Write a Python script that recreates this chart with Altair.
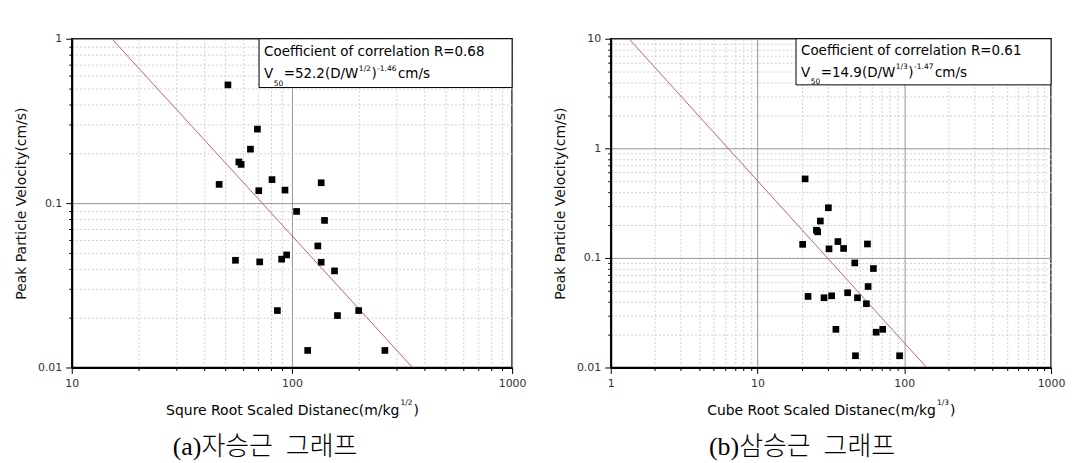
import altair as alt
import pandas as pd

FONT = "DejaVu Sans"
SERIF = "Liberation Serif, Noto Sans CJK KR"

# ---------------- data ----------------
a_x = [51.2, 69.7, 64.8, 57.4, 58.8, 46.7, 70.7, 81.2, 93.0, 135.8, 105.0, 140.6,
       55.4, 71.4, 89.8, 94.6, 131.1, 135.8, 156.1, 85.9, 201.0, 161.0, 117.9, 264.4]
a_y = [0.524, 0.282, 0.213, 0.178, 0.172, 0.130, 0.119, 0.139, 0.120, 0.133, 0.089, 0.0785,
       0.0449, 0.0439, 0.0456, 0.0484, 0.0549, 0.0437, 0.0387, 0.0222, 0.0222, 0.0207, 0.0127, 0.0127]

b_x = [21.1, 30.4, 26.8, 25.2, 25.7, 35.3, 20.3, 30.7, 38.6, 56.1, 46.0, 61.6,
       56.7, 22.1, 28.4, 32.0, 41.1, 48.0, 55.2, 34.2, 64.3, 71.3, 46.5, 92.9]
b_y = [0.526, 0.287, 0.217, 0.179, 0.173, 0.141, 0.133, 0.121, 0.122, 0.134, 0.090, 0.080,
       0.0548, 0.0445, 0.0433, 0.0451, 0.0481, 0.0433, 0.0382, 0.0223, 0.0210, 0.0223, 0.0128, 0.0128]

# fitted power-law lines (end points where they leave the frame)
a_fit_x = [15.2, 353.0]
a_fit_y = [1.0, 0.01]
b_fit_x = [1.33, 142.0]
b_fit_y = [10.0, 0.01]

# axis tick positions
a_x_ticks = [10, 20, 30, 40, 50, 60, 70, 80, 90, 100, 200, 300, 400, 500, 600, 700, 800, 900, 1000]
a_y_ticks = [0.01, 0.02, 0.03, 0.04, 0.05, 0.06, 0.07, 0.08, 0.09,
             0.1, 0.2, 0.3, 0.4, 0.5, 0.6, 0.7, 0.8, 0.9, 1]
b_x_ticks = [1, 2, 3, 4, 5, 6, 7, 8, 9, 10, 20, 30, 40, 50, 60, 70, 80, 90,
             100, 200, 300, 400, 500, 600, 700, 800, 900, 1000]
b_y_ticks = [0.01, 0.02, 0.03, 0.04, 0.05, 0.06, 0.07, 0.08, 0.09,
             0.1, 0.2, 0.3, 0.4, 0.5, 0.6, 0.7, 0.8, 0.9,
             1, 2, 3, 4, 5, 6, 7, 8, 9, 10]

y_title = "Peak Particle Velocity(cm/s)"

a_r_text = "Coefficient of correlation R=0.68"
a_eq = ["V", "50", "=52.2(D/W", "1/2", ")", "-1.46", "cm/s"]
a_xtitle = ["Squre Root Scaled Distanec(m/kg", "1/2", ")"]
a_caption = "(a)자승근\u00a0\u00a0그래프"

b_r_text = "Coefficient of correlation R=0.61"
b_eq = ["V", "50", "=14.9(D/W", "1/3", ")", "-1.47", "cm/s"]
b_xtitle = ["Cube Root Scaled Distanec(m/kg", "1/3", ")"]
b_caption = "(b)삼승근\u00a0\u00a0그래프"

# ---------------- helpers ----------------
W_PLOT, H_PLOT = 442, 330

# DejaVu Sans advance widths (em)
CW = {" ": 0.318, "(": 0.390, ")": 0.390, "-": 0.361, ".": 0.318, "/": 0.337, "=": 0.838,
      "C": 0.698, "D": 0.770, "R": 0.695, "S": 0.635, "V": 0.684, "W": 0.989, "P": 0.603,
      "a": 0.613, "b": 0.635, "c": 0.550, "d": 0.635, "e": 0.615, "f": 0.352, "g": 0.635,
      "i": 0.278, "k": 0.579, "l": 0.278, "m": 0.974, "n": 0.634, "o": 0.612, "q": 0.635,
      "r": 0.411, "s": 0.521, "t": 0.392, "u": 0.634, "y": 0.592}
for d in "0123456789":
    CW[d] = 0.636


def tw(s, size):
    return sum(CW.get(c, 0.6) for c in s) * size


ONE = pd.DataFrame({"k": [0]})
DEC = "abs(log(datum.value)/LN10 - round(log(datum.value)/LN10)) < 0.000001"


def cond(a, b):
    return {"condition": {"test": DEC, "value": a}, "value": b}


def make_axis(values, **kw):
    return alt.Axis(values=values, labelExpr=f"({DEC}) ? '' + datum.value : ''",
                    grid=True, gridColor=cond("#959595", "#d0d0d0"),
                    gridDash=cond([], [2, 2]), gridWidth=1,
                    tickSize=cond(6, 3), tickColor="black", tickWidth=1,
                    domainColor="black", domainWidth=2,
                    labelFont=FONT, labelFontSize=11, labelColor="#333",
                    labelOverlap=False, labelFlush=False, **kw)


def text_layer(txt, x, y, size, align="left", font=FONT, weight="normal", color="black"):
    return alt.Chart(ONE).mark_text(align=align, baseline="alphabetic", font=font,
                                    fontSize=size, fontWeight=weight, color=color).encode(
        x=alt.value(x), y=alt.value(y), text=alt.value(txt))


def panel(px, py, fx, fy, xdom, ydom, xt, yt, rtext, eq, xtitle, caption,
          box_left, box_bottom, l1_y, l2_y, cap_x):
    df = pd.DataFrame({"x": px, "y": py})
    fit = pd.DataFrame({"x": fx, "y": fy})
    xs = alt.Scale(type="log", domain=xdom, nice=False)
    ys = alt.Scale(type="log", domain=ydom, nice=False)
    xax = make_axis(xt, title=None, labelPadding=4)
    yax = make_axis(yt, title=y_title, titleFont=FONT, titleFontSize=14,
                    titleFontWeight="normal", titleColor="#111", titlePadding=9,
                    labelPadding=4)
    enc = dict(x=alt.X("x:Q", scale=xs, axis=xax), y=alt.Y("y:Q", scale=ys, axis=yax))
    line = alt.Chart(fit).mark_line(color="#b8686a", strokeWidth=1, clip=True).encode(**enc)
    pts = alt.Chart(df).mark_square(size=45, color="black", opacity=1).encode(**enc)
    box = alt.Chart(ONE).mark_rect(fill="white", stroke="black", strokeWidth=1).encode(
        x=alt.value(box_left), x2=alt.value(W_PLOT), y=alt.value(0), y2=alt.value(box_bottom))

    layers = [line, pts, box]
    x0 = box_left + 5
    layers.append(text_layer(rtext, x0, l1_y, 13.5))
    # equation with sub/superscripts
    big, small = 13.5, 7.5
    xcur = x0
    layers.append(text_layer(eq[0], xcur, l2_y, big))
    xcur += tw(eq[0], big) + 0.5
    layers.append(text_layer(eq[1], xcur, l2_y + 7.5, small))
    xcur += tw(eq[1], small) + 0.5
    layers.append(text_layer(eq[2], xcur, l2_y, big))
    xcur += tw(eq[2], big) + 0.5
    layers.append(text_layer(eq[3], xcur, l2_y - 7.5, small))
    xcur += tw(eq[3], small) + 0.5
    layers.append(text_layer(eq[4], xcur, l2_y, big))
    xcur += tw(eq[4], big) + 0.5
    layers.append(text_layer(eq[5], xcur, l2_y - 7.5, small))
    xcur += tw(eq[5], small) + 1.5
    layers.append(text_layer(eq[6], xcur, l2_y, big))

    # x axis title with superscript
    tsize, ssize = 14, 7.5
    wm, ws, wp = tw(xtitle[0], tsize), tw(xtitle[1], ssize), tw(xtitle[2], tsize)
    total = wm + 1 + ws + 1 + wp
    J = W_PLOT / 2 - total / 2 + wm
    layers.append(text_layer(xtitle[0], J, 378, tsize, align="right"))
    layers.append(text_layer(xtitle[1], J + 1, 367.5, ssize))
    layers.append(text_layer(xtitle[2], J + 2 + ws, 378, tsize))

    # caption
    layers.append(text_layer(caption, cap_x, 418, 26, align="center", font=SERIF, weight=300))

    return alt.layer(*layers).properties(width=W_PLOT, height=H_PLOT)


left = panel(a_x, a_y, a_fit_x, a_fit_y, [10, 1000], [0.01, 1], a_x_ticks, a_y_ticks,
             a_r_text, a_eq, a_xtitle, a_caption, 188, 49, 17, 39.7, 194)
right = panel(b_x, b_y, b_fit_x, b_fit_y, [1, 1000], [0.01, 10], b_x_ticks, b_y_ticks,
              b_r_text, b_eq, b_xtitle, b_caption, 186, 46.3, 16.3, 38, 192)

chart = alt.hconcat(left, right, spacing=25).properties(
    padding={"left": 5, "top": 23, "right": 2, "bottom": 0},
    background="white",
).configure_view(stroke="black", strokeWidth=1.5)

chart.save("out.html", embed_options={"renderer": "svg", "actions": False})
